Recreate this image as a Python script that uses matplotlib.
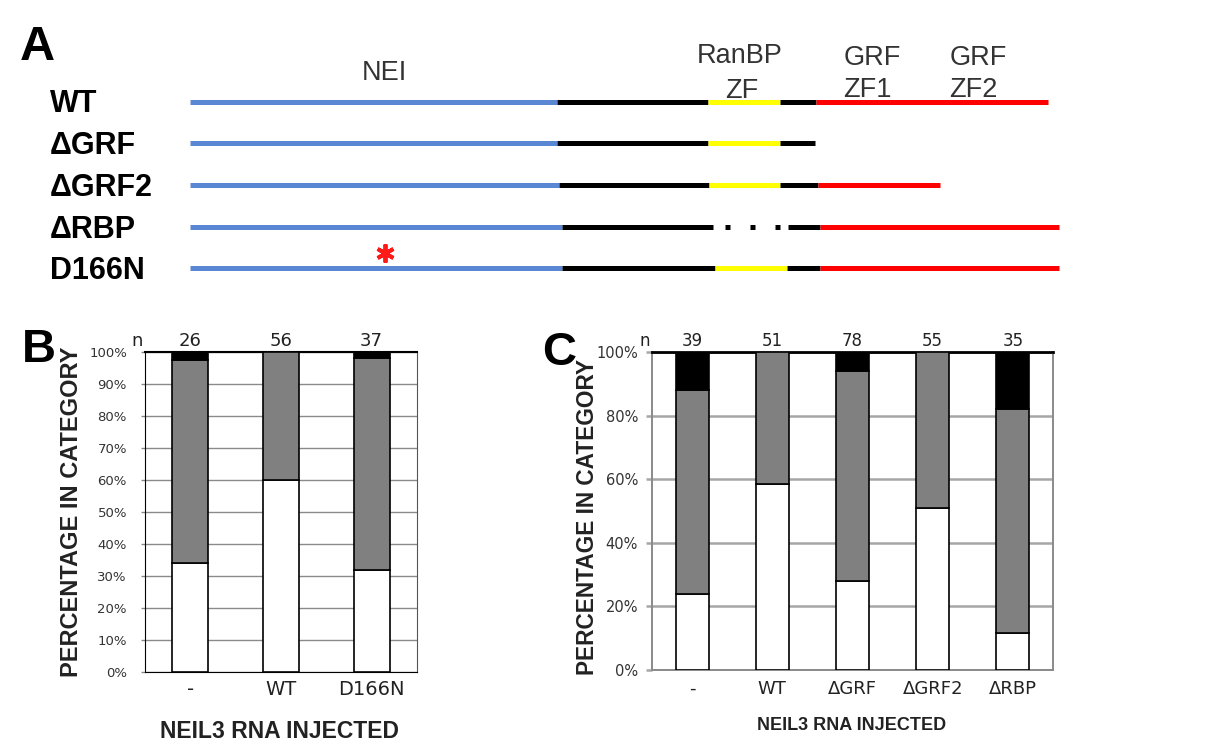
import matplotlib
matplotlib.use("Agg")
import matplotlib.pyplot as plt

# ---- panel A: construct schematic ----
construct_names = ['WT', '\u0394GRF', '\u0394GRF2', '\u0394RBP', 'D166N']
construct_bounds = [
    [190, 557, 708, 780, 816, 1048],
    [190, 557, 708, 780, 815],
    [190, 559, 709, 780, 818, 940],
    [190, 562, 713, 788, 820, 1059],
    [190, 562, 715, 787, 820, 1059],
]
construct_domains = [
    ['NEI', 'linker', 'RanBP', 'linker', 'GRF'],
    ['NEI', 'linker', 'RanBP', 'linker'],
    ['NEI', 'linker', 'RanBP', 'linker', 'GRF'],
    ['NEI', 'linker', 'deleted', 'linker', 'GRF'],
    ['NEI', 'linker', 'RanBP', 'linker', 'GRF'],
]
mutation_construct = 'D166N'
mutation_site = 385

# ---- panel B ----
b_groups = ['-', 'WT', 'D166N']
b_n = [26, 56, 37]
b_white = [34, 60, 32]
b_grey = [63.5, 40, 66]
b_black = [2.5, 0, 2]

# ---- panel C ----
c_groups = ['-', 'WT', '\u0394GRF', '\u0394GRF2', '\u0394RBP']
c_n = [39, 51, 78, 55, 35]
c_white = [24, 58.5, 28, 51, 11.5]
c_grey = [64, 41.5, 66, 49, 70.5]
c_black = [12, 0, 6, 0, 18]

domain_colors = {'NEI': '#5a87d3', 'linker': 'black', 'RanBP': '#ffff00',
                 'GRF': '#ff0000', 'deleted': 'black'}

BOLD = dict(family='Liberation Sans', weight='bold')
W, H = 1207, 750

fig = plt.figure(figsize=(W / 100, H / 100), dpi=100)
ax_a = fig.add_axes([0, 0, 1, 1])
ax_a.set_xlim(0, W)
ax_a.set_ylim(H, 0)
ax_a.axis('off')

row0, row_step = 101.5, 41.7
lw = 3.6
for i, name in enumerate(construct_names):
    y = row0 + i * row_step
    b = construct_bounds[i]
    for s, e, d in zip(b[:-1], b[1:], construct_domains[i]):
        if d == 'deleted':
            ax_a.plot([s + 12, e - 6], [y, y], color='black', lw=lw,
                      dashes=(1, 4), solid_capstyle='butt', dash_capstyle='butt')
        else:
            ax_a.plot([s, e], [y, y], color=domain_colors[d], lw=lw,
                      solid_capstyle='butt')
    ax_a.text(50, y + 11, name, fontsize=22, ha='left', va='baseline', **BOLD)
    if name == mutation_construct:
        ax_a.plot([mutation_site], [y - 15], marker=(6, 2, 0), ms=13,
                  mew=2.8, color='#ff1a1a')

ax_a.text(20, 60, 'A', fontsize=35, ha='left', va='baseline', **BOLD)
dom_font = dict(family='Liberation Sans', fontsize=19.5, color='#333333',
                ha='center', va='baseline')
ax_a.text(384, 80, 'NEI', **dom_font)
ax_a.text(740, 63, 'RanBP', **dom_font)
ax_a.text(742, 98, 'ZF', **dom_font)
ax_a.text(872, 65, 'GRF', **dom_font)
ax_a.text(867, 97, 'ZF1', **dom_font)
ax_a.text(978, 65, 'GRF', **dom_font)
ax_a.text(973, 97, 'ZF2', **dom_font)


def stacked(ax, groups, n, white, grey, black, width, step, gcol, glw,
            tick_fs, cat_fs, n_fs, cat_pad, ytick_pad, tick_len):
    x = list(range(len(groups)))
    bottoms_g = white
    bottoms_k = [w + g for w, g in zip(white, grey)]
    ax.bar(x, white, width, color='white', edgecolor='black', lw=1.2, zorder=3)
    ax.bar(x, grey, width, bottom=bottoms_g, color='#808080',
           edgecolor='black', lw=1.2, zorder=3)
    for xi, k, bk in zip(x, black, bottoms_k):
        if k > 0:
            ax.bar(xi, k, width, bottom=bk, color='black',
                   edgecolor='black', lw=1.2, zorder=3)
    ax.set_xlim(-0.5, len(groups) - 0.5)
    ax.set_ylim(0, 100)
    ax.set_yticks(list(range(0, 101, step)))
    ax.set_yticklabels(['%d%%' % v for v in range(0, 101, step)],
                       family='DejaVu Sans', fontsize=tick_fs, color='#333333')
    ax.set_xticks(x)
    ax.set_xticklabels(groups, family='DejaVu Sans', fontsize=cat_fs,
                       color='#222222')
    ax.tick_params(axis='x', length=0, pad=cat_pad)
    ax.tick_params(axis='y', length=tick_len, width=glw, color=gcol,
                   pad=ytick_pad)
    ax.yaxis.grid(True, color=gcol, lw=glw)
    ax.set_axisbelow(True)
    for xi, v in zip(x, n):
        ax.text(xi, 1.018, str(v), transform=ax.get_xaxis_transform(),
                ha='center', va='baseline', family='DejaVu Sans',
                fontsize=n_fs, color='#222222')
    ax.text(-0.52, 1.018, 'n', transform=ax.get_xaxis_transform(),
            ha='right', va='baseline', family='DejaVu Sans', fontsize=n_fs,
            color='#222222')


ax_b = fig.add_axes([145 / W, 1 - 672 / H, 272 / W, 320 / H])
stacked(ax_b, b_groups, b_n, b_white, b_grey, b_black, 0.4, 10, '#8a8a8a',
        1.0, 9.5, 14, 13, 6, 10, 3)
for sp in ['left', 'bottom', 'top']:
    ax_b.spines[sp].set_color('black')
ax_b.spines['top'].set_linewidth(1.5)
ax_b.spines['right'].set_color('#555555')

ax_c = fig.add_axes([652 / W, 1 - 670 / H, 401 / W, 318 / H])
stacked(ax_c, c_groups, c_n, c_white, c_grey, c_black, 0.41, 20, '#a6a6a6',
        1.8, 10.5, 13, 12, 7, 6, 4)
ax_c.spines['top'].set_color('black')
ax_c.spines['top'].set_linewidth(2.0)
for sp in ['left', 'bottom', 'right']:
    ax_c.spines[sp].set_color('#8a8a8a')
    ax_c.spines[sp].set_linewidth(1.4)

# panel letters and axis titles
ax_a.text(22, 362, 'B', fontsize=34, ha='left', va='baseline', **BOLD)
ax_a.text(542, 365, 'C', fontsize=34, ha='left', va='baseline', **BOLD)
ax_a.text(72, 512, 'PERCENTAGE IN CATEGORY', rotation=90, fontsize=17,
          ha='center', va='center', color='#222222', **BOLD)
ax_a.text(587, 517, 'PERCENTAGE IN CATEGORY', rotation=90, fontsize=16.3,
          ha='center', va='center', color='#222222', **BOLD)
ax_a.text(280, 732, 'NEIL3 RNA INJECTED', fontsize=16.5, ha='center',
          va='center', color='#222222', **BOLD)
ax_a.text(852, 725, 'NEIL3 RNA INJECTED', fontsize=13, ha='center',
          va='center', color='#222222', **BOLD)

fig.savefig('out.png', dpi=100)
